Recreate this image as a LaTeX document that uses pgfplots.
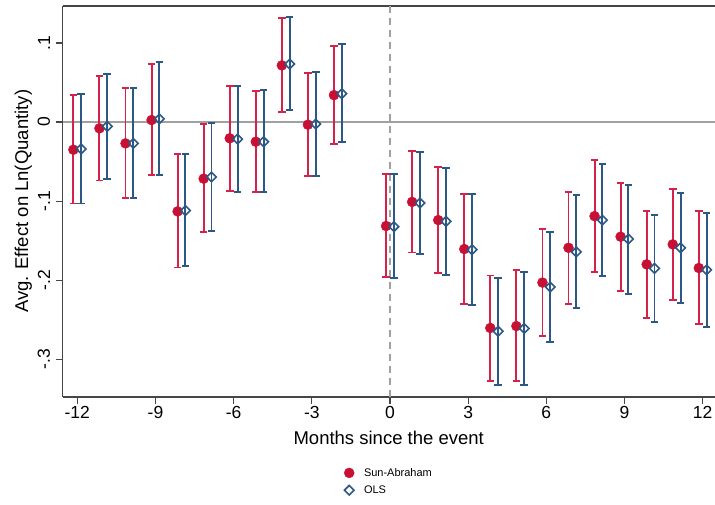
\documentclass[border=0pt]{standalone}
\usepackage{pgfplots}
\usepackage{pgfplotstable}
\pgfplotsset{compat=1.18}
\usepackage{fontspec}
\setmainfont{Liberation Sans}
\definecolor{sared}{RGB}{200,16,52}
\definecolor{sabar}{RGB}{212,34,74}
\definecolor{olsblue}{RGB}{44,88,134}
\definecolor{zerogray}{RGB}{160,160,160}
\definecolor{framegray}{RGB}{70,70,70}

\pgfplotstableread{
x y lo hi
-12 -0.035 -0.103 0.034
-11 -0.008 -0.074 0.058
-10 -0.027 -0.0965 0.0426
-9 0.0025 -0.067 0.0733
-8 -0.113 -0.184 -0.041
-7 -0.0716 -0.139 -0.003
-6 -0.0206 -0.0868 0.046
-5 -0.0249 -0.0885 0.0396
-4 0.0716 0.013 0.131
-3 -0.0034 -0.0678 0.0624
-2 0.034 -0.0274 0.096
0 -0.1315 -0.1964 -0.0657
1 -0.101 -0.165 -0.0367
2 -0.124 -0.191 -0.057
3 -0.1606 -0.230 -0.0914
4 -0.2604 -0.327 -0.194
5 -0.258 -0.328 -0.187
6 -0.203 -0.271 -0.135
7 -0.159 -0.230 -0.0885
8 -0.119 -0.1896 -0.0485
9 -0.145 -0.214 -0.0767
10 -0.180 -0.248 -0.113
11 -0.1547 -0.2246 -0.0847
12 -0.1846 -0.2558 -0.112
}\sadata

\pgfplotstableread{
x y lo hi
-12 -0.034 -0.103 0.035
-11 -0.0055 -0.072 0.061
-10 -0.027 -0.0965 0.043
-9 0.004 -0.0666 0.0754
-8 -0.112 -0.1825 -0.0405
-7 -0.0695 -0.1374 -0.0017
-6 -0.0215 -0.0885 0.045
-5 -0.025 -0.0885 0.040
-4 0.0733 0.0147 0.1327
-3 -0.0025 -0.0678 0.063
-2 0.0358 -0.0257 0.0986
0 -0.1323 -0.197 -0.0657
1 -0.1024 -0.167 -0.038
2 -0.1256 -0.193 -0.0577
3 -0.1614 -0.2318 -0.0914
4 -0.2646 -0.3325 -0.197
5 -0.261 -0.3325 -0.190
6 -0.2086 -0.278 -0.139
7 -0.1643 -0.235 -0.0927
8 -0.124 -0.1947 -0.0535
9 -0.148 -0.2174 -0.0796
10 -0.185 -0.2524 -0.117
11 -0.159 -0.2288 -0.0893
12 -0.187 -0.2596 -0.1146
}\olsdata

\begin{document}
\begin{tikzpicture}
\useasboundingbox (0,0) rectangle (715pt,504pt);
\begin{axis}[
  at={(62.7pt,107.3pt)}, anchor=south west,
  scale only axis, width=652pt, height=390.7pt,
  xmin=-12.56, xmax=12.46, ymin=-0.3473, ymax=0.1467,
  axis x line*=box, axis y line*=left,
  axis line style={line width=1.6pt, color=framegray, -},
  xtick={-12,-9,...,12},
  xticklabels={-12,-9,-6,-3,0,3,6,9,12},
  ytick={-0.3,-0.2,-0.1,0,0.1},
  yticklabels={-.3,-.2,-.1,0,.1},
  xtick pos=bottom, ytick pos=left,
  tick align=outside, major tick length=7pt,
  tick style={line width=1.2pt, color=framegray},
  ticklabel style={font=\fontsize{17.5}{20}\selectfont},
  yticklabel style={rotate=90, anchor=south, yshift=2pt},
  xticklabel style={yshift=1pt},
  xlabel={Months since the event},
  ylabel={Avg. Effect on Ln(Quantity)},
  label style={font=\fontsize{18.5}{21}\selectfont},
  xlabel style={yshift=-6pt},
  ylabel style={yshift=-1pt},
  legend style={at={(axis description cs:0.5,-0.217)}, anchor=center, draw=none, fill=none,
    font=\fontsize{11}{13}\selectfont, row sep=4pt, inner sep=0pt},
  legend cell align=left,
  legend image code/.code={\path[draw=none] (-0.2cm,0) -- (0.45cm,0); \draw[#1, only marks] plot coordinates {(0cm,0cm)};},
  clip=false,
]
\draw[zerogray, line width=1.6pt] (axis cs:-12.56,0) -- (axis cs:12.46,0);
\draw[zerogray, line width=1.4pt, dash pattern=on 7pt off 5pt] (axis cs:0,-0.3473) -- (axis cs:0,0.1467);

\addplot[only marks, mark=*, mark size=5pt, color=sared, mark options={fill=sared, draw=sared},
  error bars/.cd, y dir=both, y explicit,
  error bar style={line width=1.9pt, color=sabar},
  error mark options={rotate=90, mark size=3.8pt, line width=1.9pt, color=sabar}]
  table[x expr=\thisrow{x}-0.15, y=y, y error plus expr=\thisrow{hi}-\thisrow{y}, y error minus expr=\thisrow{y}-\thisrow{lo}] {\sadata};
\addlegendentry{Sun-Abraham}

\addplot[only marks, mark=square, mark size=3.4pt, color=olsblue, mark options={rotate=45, fill=white, draw=olsblue, line width=1.6pt},
  error bars/.cd, y dir=both, y explicit,
  error bar style={line width=1.9pt, color=olsblue},
  error mark options={rotate=90, mark size=3.8pt, line width=1.9pt, color=olsblue}]
  table[x expr=\thisrow{x}+0.15, y=y, y error plus expr=\thisrow{hi}-\thisrow{y}, y error minus expr=\thisrow{y}-\thisrow{lo}] {\olsdata};
\addlegendentry{OLS}
\end{axis}
\end{tikzpicture}
\end{document}
